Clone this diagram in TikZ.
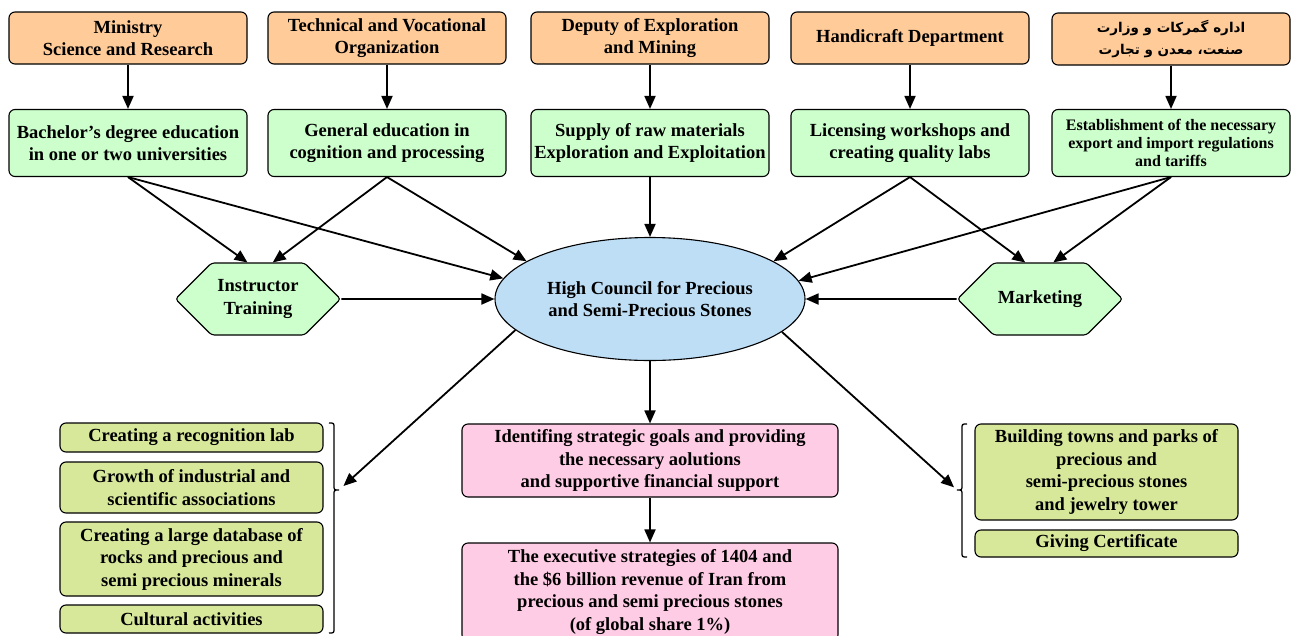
\documentclass[tikz,border=0pt]{standalone}
\usepackage{fontspec}
\setmainfont{Liberation Serif}
\newfontfamily\farsifont[Script=Arabic]{DejaVu Sans}
\TeXXeTstate=1
\usetikzlibrary{arrows.meta,shapes.geometric,shapes.symbols}
\definecolor{orangebox}{RGB}{255,204,153}
\definecolor{greenbox}{RGB}{204,255,204}
\definecolor{bluebox}{RGB}{190,222,246}
\definecolor{pinkbox}{RGB}{255,204,229}
\definecolor{olivebox}{RGB}{215,232,155}

\begin{document}
\begin{tikzpicture}[x=1pt, y=-1pt,
  >={Triangle[length=13pt,width=11pt]},
  box/.style={draw=black, line width=1.1pt, rounded corners=6pt, align=center, inner sep=2pt,
    font=\fontsize{18.5}{22.5}\selectfont\bfseries},
  top/.style={box, fill=orangebox, minimum width=238pt, minimum height=52pt},
  mid/.style={box, fill=greenbox, minimum width=238pt, minimum height=67pt},
  hexa/.style={box, shape=signal, signal to=east and west, fill=greenbox, rounded corners=3pt,
    minimum width=165pt, minimum height=72pt},
  side/.style={box, fill=olivebox, minimum width=263pt},
  goal/.style={box, fill=pinkbox, minimum width=376pt},
  arr/.style={->, line width=1.8pt, draw=black}]
\useasboundingbox (0,0) rectangle (1293,635);
% top row
\node[top] (T1) at (128,38) {Ministry\\Science and Research};
\node[top] (T2) at (387,38) {Technical and Vocational\\Organization};
\node[top] (T3) at (650,38) {Deputy of Exploration\\and Mining};
\node[top] (T4) at (910,38) {Handicraft Department};
\node[top, font=\farsifont\fontsize{13.5}{22}\selectfont\bfseries] (T5) at (1171,39) {\beginR اداره گمرکات و وزارت\endR\\\beginR صنعت، معدن و تجارت\endR};
% second row
\node[mid] (G1) at (128,143) {Bachelor's degree education\\in one or two universities};
\node[mid] (G2) at (387,143) {General education in\\cognition and processing};
\node[mid] (G3) at (650,143) {Supply of raw materials\\Exploration and Exploitation};
\node[mid] (G4) at (910,143) {Licensing workshops and\\creating quality labs};
\node[mid, font=\fontsize{16}{18}\selectfont\bfseries] (G5) at (1171,143) {Establishment of the necessary\\export and import regulations\\and tariffs};
% middle
\node[hexa] (IT) at (258,299) {Instructor\\Training};
\node[hexa] (MK) at (1040,299) {Marketing};
\node[ellipse, draw=black, line width=1.1pt, fill=bluebox, minimum width=310pt, minimum height=123pt,
  align=center, inner sep=1pt, font=\fontsize{18.5}{22.5}\selectfont\bfseries] (HC) at (650,299) {High Council for Precious\\and Semi-Precious Stones};
% bottom
\node[goal, minimum height=73pt] (P1) at (650,460.5) {Identifing strategic goals and providing\\the necessary aolutions\\and supportive financial support};
\node[goal, minimum height=98pt] (P2) at (650,592) {The executive strategies of 1404 and\\the \$6 billion revenue of Iran from\\precious and semi precious stones\\(of global share 1\%)};
\node[side, minimum height=29pt] (L1) at (191.5,437.5) {Creating a recognition lab};
\node[side, minimum height=51pt] (L2) at (191.5,487.5) {Growth of industrial and\\scientific associations};
\node[side, minimum height=74pt] (L3) at (191.5,559) {Creating a large database of\\rocks and precious and\\semi precious minerals};
\node[side, minimum height=28pt] (L4) at (191.5,619) {Cultural activities};
\node[side, minimum height=96pt] (R1) at (1106.5,472) {Building towns and parks of\\precious and\\semi-precious stones\\and jewelry tower};
\node[side, minimum height=27pt] (R2) at (1106.5,543.5) {Giving Certificate};
% braces
\coordinate (LB) at (339,490);
\coordinate (RB) at (957,490);
\draw[line width=1.3pt] (329,423) .. controls (334,423) .. (334,428) -- (334,485)
  .. controls (334,490) .. (LB) .. controls (334,490) .. (334,495) -- (334,628)
  .. controls (334,633) .. (329,633);
\draw[line width=1.3pt] (967,424) .. controls (962,424) .. (962,429) -- (962,485)
  .. controls (962,490) .. (RB) .. controls (962,490) .. (962,495) -- (962,552)
  .. controls (962,557) .. (967,557);
% arrows
\path (T1) edge[arr] (G1);
\path (T2) edge[arr] (G2);
\path (T3) edge[arr] (G3);
\path (T4) edge[arr] (G4);
\path (T5) edge[arr] (G5);
\path (G1.south) edge[arr] (IT.106);
\path (G1.south) edge[arr] (HC.172);
\path (G2.south) edge[arr] (IT.68);
\path (G2.south) edge[arr] (HC.163);
\path (G3) edge[arr] (HC);
\path (G4.south) edge[arr] (HC.17);
\path (G4.south) edge[arr] (MK.112);
\path (G5.south) edge[arr] (HC.7);
\path (G5.south) edge[arr] (MK.70);
\path (IT) edge[arr] (HC);
\path (MK) edge[arr] (HC);
\path (HC) edge[arr] (P1);
\path (P1) edge[arr] (P2);
\path (HC.193) edge[arr, shorten >=6pt] (LB);
\path (HC.346) edge[arr, shorten >=4pt] (RB);
\end{tikzpicture}
\end{document}
